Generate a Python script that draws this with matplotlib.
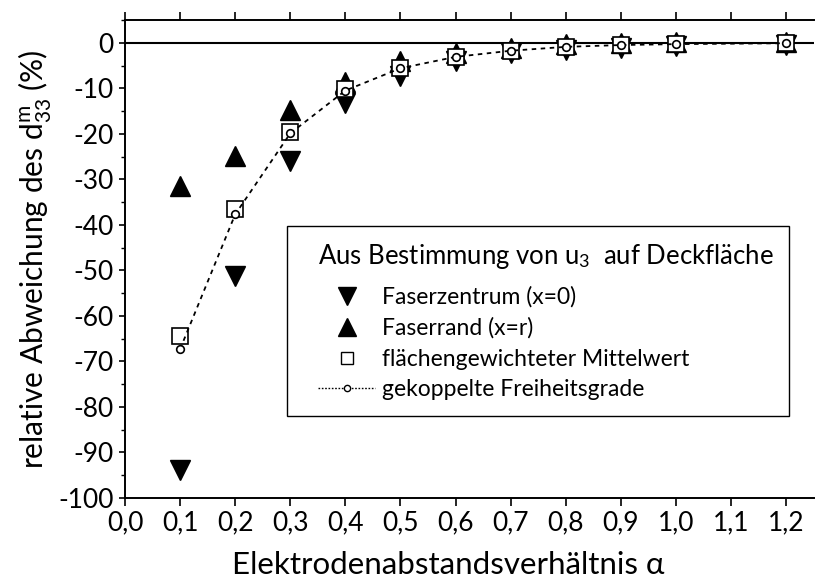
import numpy as np
import matplotlib
matplotlib.use("Agg")
import matplotlib.pyplot as plt
from matplotlib.lines import Line2D
from matplotlib.patches import Rectangle
from matplotlib.ticker import MultipleLocator, FixedLocator

plt.rcParams['font.family'] = ['Lato', 'DejaVu Sans']
plt.rcParams['mathtext.fontset'] = 'custom'
plt.rcParams['mathtext.rm'] = 'Lato'
plt.rcParams['mathtext.it'] = 'Lato:italic'
plt.rcParams['axes.unicode_minus'] = False

# Elektrodenabstandsverhaeltnis
alpha = [0.1, 0.2, 0.3, 0.4, 0.5, 0.6, 0.7, 0.8, 0.9, 1.0, 1.2]
# Abweichung in % je Auswertung
zentrum = [-93.9, -51.2, -25.9, -13.3, -7.2, -4.1, -2.3, -1.5, -1.2, -0.8, -0.6]
rand = [-31.5, -24.9, -14.7, -8.7, -3.9, -2.3, -1.2, -0.3, 0.0, 0.1, 0.2]
mittel = [-64.5, -36.6, -19.7, -10.2, -5.5, -3.1, -1.7, -0.9, -0.5, -0.3, -0.1]
gekoppelt = [-67.3, -37.7, -19.9, -10.5, -5.6, -3.1, -1.75, -0.9, -0.5, -0.3, -0.1]

xticks = [0.0, 0.1, 0.2, 0.3, 0.4, 0.5, 0.6, 0.7, 0.8, 0.9, 1.0, 1.1, 1.2]
xticklabels = ["0,0", "0,1", "0,2", "0,3", "0,4", "0,5", "0,6", "0,7", "0,8", "0,9", "1,0", "1,1", "1,2"]
yticks = [0, -10, -20, -30, -40, -50, -60, -70, -80, -90, -100]

W, H = 815, 579
fig = plt.figure(figsize=(W / 100, H / 100), dpi=100)
ax = fig.add_axes([125 / W, 1 - 498 / H, 0.845, (498 - 20) / H])

ax.axhline(0, color='black', lw=1.5, zorder=1)

ax.plot(alpha, zentrum, 'v', ms=14, color='black', mec='black', zorder=2)
ax.plot(alpha, rand, '^', ms=14, color='black', mec='black', zorder=2)
ax.plot(alpha, mittel, 's', ms=11, mfc='white', mec='black', mew=1.2, zorder=3)
ax.plot(alpha, gekoppelt, linestyle=(0, (2.5, 2.5)), color='black', lw=1.3, zorder=4)
ax.plot(alpha, gekoppelt, 'o', ms=5.5, mfc='white', mec='black', mew=1.2, zorder=5)

ax.set_xlim(0, 1.25)
ax.set_ylim(-100, 5)
ax.xaxis.set_major_locator(FixedLocator(xticks))
ax.set_xticklabels(xticklabels)
ax.yaxis.set_major_locator(FixedLocator(yticks))
ax.yaxis.set_minor_locator(MultipleLocator(5))

ax.spines['right'].set_visible(False)
for s in ['left', 'bottom', 'top']:
    ax.spines[s].set_linewidth(1.4)

ax.tick_params(axis='x', which='major', direction='out', length=6, width=1.2,
               top=True, labelsize=19, pad=3)
ax.tick_params(axis='y', which='major', direction='out', length=4, width=1.2,
               right=False, labelsize=19, pad=4)
ax.tick_params(axis='y', which='minor', direction='out', length=3, width=1.0, right=False)

ax.set_xlabel("Elektrodenabstandsverhältnis α", fontsize=22.5, labelpad=11)
ax.xaxis.label.set_x(0.469)
ax.set_ylabel("relative Abweichung des d$^{\\mathregular{m}}_{\\mathregular{33}}$ (%)",
              fontsize=21.5, labelpad=4)

# Legendenrahmen
fig.patches.append(Rectangle((287 / W, 1 - 416 / H), (789 - 287) / W, (416 - 226) / H,
                             transform=fig.transFigure, fill=True, facecolor='white',
                             edgecolor='black', lw=1.0, zorder=10))

handles = [
    Line2D([], [], marker='v', ms=13, color='black', linestyle='none'),
    Line2D([], [], marker='^', ms=13, color='black', linestyle='none'),
    Line2D([], [], marker='s', ms=9, mfc='white', mec='black', mew=1.0, linestyle='none'),
    Line2D([], [], marker='o', ms=4.5, mfc='white', mec='black', mew=1.0,
           linestyle=(0, (1.2, 1.2)), color='black', lw=1.0),
]
labels = ["Faserzentrum (x=0)", "Faserrand (x=r)", "flächengewichteter Mittelwert",
          "gekoppelte Freiheitsgrade"]
leg = fig.legend(handles, labels, title="Aus Bestimmung von u$_\\mathregular{3}$  auf Deckfläche",
                 loc='upper left', bbox_to_anchor=(318 / W, 1 - 242 / H),
                 fontsize=16.5, title_fontsize=18.5, frameon=False,
                 alignment='left', handlelength=2.5, handletextpad=0.3,
                 labelspacing=0.42, borderpad=0, borderaxespad=0)
leg.set_zorder(11)
leg._legend_box.sep = 11

fig.savefig("out.png", dpi=100)
